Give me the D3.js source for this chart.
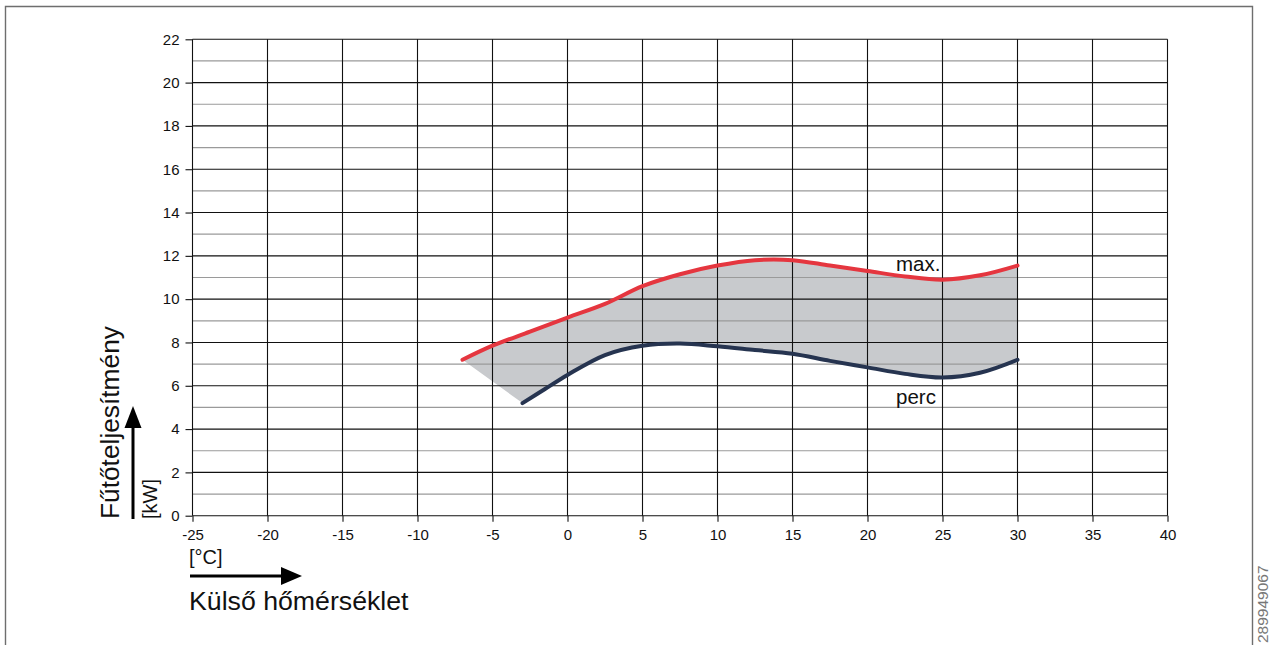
<!DOCTYPE html>
<html>
<head>
<meta charset="utf-8">
<script src="https://cdn.jsdelivr.net/npm/d3@7"></script>
<style>
  html, body { margin: 0; padding: 0; background: #fff; }
  svg { display: block; font-family: "Liberation Sans", Arial, sans-serif; }
</style>
</head>
<body>
<svg id="chart" width="1275" height="645"></svg>
<script>
// Outdoor temperature [°C] and heating output [kW]
const maxTemps = [-7, -5, -2.5, 0, 2.5, 5, 7.5, 10, 12.5, 15, 17.5, 20, 22.5, 25, 27.5, 30];
const maxPower = [7.2, 7.85, 8.5, 9.15, 9.78, 10.6, 11.15, 11.55, 11.8, 11.8, 11.55, 11.3, 11.05, 10.9, 11.1, 11.55];
const minTemps = [-3, -1.5, 0, 2.5, 5, 7.5, 10, 12.5, 15, 17.5, 20, 22.5, 25, 27.5, 30];
const minPower = [5.2, 5.85, 6.5, 7.42, 7.85, 7.95, 7.82, 7.65, 7.48, 7.15, 6.85, 6.55, 6.38, 6.6, 7.2];
const xTicks = [-25, -20, -15, -10, -5, 0, 5, 10, 15, 20, 25, 30, 35, 40];
const yTicks = [0, 2, 4, 6, 8, 10, 12, 14, 16, 18, 20, 22];
const yMinor = [1, 3, 5, 7, 9, 11, 13, 15, 17, 19, 21];

const svg = d3.select("#chart");
const x = d3.scaleLinear().domain([-25, 40]).range([192.5, 1167.5]);
const y = d3.scaleLinear().domain([0, 22]).range([515.7, 39.3]);

const maxPts = maxTemps.map((t, i) => [t, maxPower[i]]);
const minPts = minTemps.map((t, i) => [t, minPower[i]]);

// frame
svg.append("path")
  .attr("d", "M5.5,650 V6.5 H1252.5 V650")
  .attr("fill", "none").attr("stroke", "#6e6e6e").attr("stroke-width", 1.4);

// shaded operating range
const curve = d3.curveCatmullRom.alpha(0.5);
const lineGen = d3.line().x(d => x(d[0])).y(d => y(d[1])).curve(curve);
const upperPath = lineGen(maxPts);
const lowerRev = lineGen(minPts.slice().reverse());
const areaD = upperPath + "L" + lowerRev.slice(1) + "Z";
svg.append("path").attr("d", areaD).attr("fill", "#c8cacd").attr("stroke", "none");

// grid
const grid = svg.append("g");
grid.selectAll("line.minor").data(yMinor).join("line")
  .attr("x1", x(-25)).attr("x2", x(40))
  .attr("y1", d => y(d)).attr("y2", d => y(d))
  .attr("stroke", "#9a9a9a").attr("stroke-width", 1.2);
grid.selectAll("line.major").data(yTicks).join("line")
  .attr("x1", x(-25)).attr("x2", x(40))
  .attr("y1", d => y(d)).attr("y2", d => y(d))
  .attr("stroke", "#111").attr("stroke-width", 1.1);
grid.selectAll("line.vert").data(xTicks).join("line")
  .attr("x1", d => x(d)).attr("x2", d => x(d))
  .attr("y1", y(0)).attr("y2", y(22))
  .attr("stroke", "#111").attr("stroke-width", 1.1);

// axes (plain hyphen for negatives)
const fmt = d => String(d);
const yAxis = d3.axisLeft(y).tickValues(yTicks).tickFormat(fmt).tickSize(7).tickPadding(6);
const xAxis = d3.axisBottom(x).tickValues(xTicks).tickFormat(fmt).tickSize(6).tickPadding(8);
const gy = svg.append("g").attr("transform", `translate(${x(-25)},0)`).call(yAxis);
const gx = svg.append("g").attr("transform", `translate(0,${y(0)})`).call(xAxis);
[gy, gx].forEach(g => {
  g.select(".domain").remove();
  g.selectAll(".tick line").attr("stroke", "#111").attr("stroke-width", 1.1);
  g.selectAll(".tick text").attr("fill", "#111")
    .style("font-family", "'Liberation Sans', Arial, sans-serif").style("font-size", "15px");
});

// curves
svg.append("path").attr("d", lineGen(minPts)).attr("fill", "none")
  .attr("stroke", "#263450").attr("stroke-width", 4).attr("stroke-linecap", "round");
svg.append("path").attr("d", upperPath).attr("fill", "none")
  .attr("stroke", "#e5363f").attr("stroke-width", 4).attr("stroke-linecap", "round");

// curve labels
svg.append("text").attr("x", 896).attr("y", 271).text("max.")
  .attr("font-size", 20.5).attr("fill", "#111");
svg.append("text").attr("x", 896).attr("y", 404).text("perc")
  .attr("font-size", 20.5).attr("fill", "#111");

// y-axis title and arrow
svg.append("text").attr("transform", "translate(119,519) rotate(-90)")
  .text("Fűtőteljesítmény").attr("font-size", 26.3).attr("fill", "#111");
svg.append("text").attr("transform", "translate(157,519) rotate(-90)")
  .text("[kW]").attr("font-size", 20).attr("fill", "#111");
svg.append("line").attr("x1", 133).attr("x2", 133).attr("y1", 519).attr("y2", 425)
  .attr("stroke", "#000").attr("stroke-width", 3);
svg.append("path").attr("d", "M124.5,428 L133,406 L141.5,428 Z").attr("fill", "#000");

// x-axis title and arrow
svg.append("text").attr("x", 189).attr("y", 564).text("[°C]")
  .attr("font-size", 20).attr("fill", "#111");
svg.append("line").attr("x1", 190).attr("x2", 284).attr("y1", 576).attr("y2", 576)
  .attr("stroke", "#000").attr("stroke-width", 3);
svg.append("path").attr("d", "M281,567 L302,576 L281,585 Z").attr("fill", "#000");
svg.append("text").attr("x", 189).attr("y", 610).text("Külső hőmérséklet")
  .attr("font-size", 26.7).attr("fill", "#111");

// image id
svg.append("text").attr("transform", "translate(1268,643) rotate(-90)")
  .text("289949067").attr("font-size", 15.5).attr("fill", "#777");
</script>
</body>
</html>
